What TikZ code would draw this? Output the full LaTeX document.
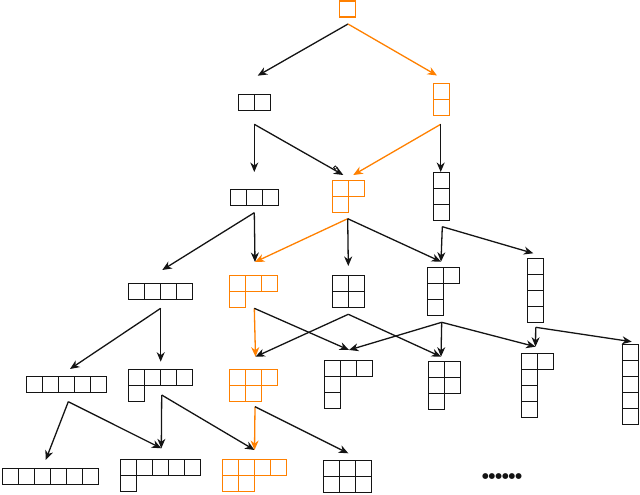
\documentclass[tikz,border=0pt]{standalone}
\usepackage{fontspec}
\usetikzlibrary{arrows.meta}
\newfontfamily\dejavu{DejaVu Sans}
\definecolor{hl}{RGB}{255,128,0}
\definecolor{ink}{RGB}{20,20,20}
\tikzset{
  cell/.style={line width=1.9pt},
  conn/.style={line width=1.3pt, ink, -{Stealth[length=9.5pt,width=8pt,inset=3pt]}},
  hlconn/.style={conn, hl},
}
\newcommand\cs{16}
% #1 name, #2 x, #3 y, #4 row lengths, #5 colour
\newcommand\young[5]{%
  \coordinate (#1) at (#2,#3);
  \begin{scope}[shift={(#2,#3)}]
    \draw[cell,#5] (0,0)
      \foreach \r [count=\i from 0] in {#4} {
        \foreach \c in {1,...,\r} {
          ({(\c-1)*\cs},{\i*\cs}) rectangle ++(\cs,\cs)
        }
      };
  \end{scope}}
\begin{document}
\begin{tikzpicture}[x=1pt,y=-1pt]
\useasboundingbox (0,0) rectangle (640,495);
% level 0
\young{p1}{339.5}{1}{1}{hl}
% level 1
\young{p2}{238.5}{94.5}{2}{ink}
\young{p11}{433.5}{83.5}{1,1}{hl}
% level 2
\young{p3}{230.5}{189.5}{3}{ink}
\young{p21}{332.5}{180.5}{2,1}{hl}
\young{p111}{433.5}{172.5}{1,1,1}{ink}
% level 3
\young{p4}{128.5}{283.5}{4}{ink}
\young{p31}{229.5}{275.5}{3,1}{hl}
\young{p22}{332.5}{275.5}{2,2}{ink}
\young{p211}{427.5}{267.5}{2,1,1}{ink}
\young{p1111}{527.5}{258.5}{1,1,1,1}{ink}
% level 4
\young{p5}{26.5}{376.5}{5}{ink}
\young{p41}{128.5}{369.5}{4,1}{ink}
\young{p32}{229.5}{369.5}{3,2}{hl}
\young{p311}{324.5}{360.5}{3,1,1}{ink}
\young{p221}{428.5}{361.5}{2,2,1}{ink}
\young{p2111}{521.5}{353.5}{2,1,1,1}{ink}
\young{p11111}{622.5}{344.5}{1,1,1,1,1}{ink}
% level 5
\young{p6}{2.5}{468.5}{6}{ink}
\young{p51}{120.5}{459.5}{5,1}{ink}
\young{p42}{222.5}{459.5}{4,2}{hl}
\young{p33}{323.5}{460.5}{3,3}{ink}
\node[font=\dejavu\fontsize{7.6}{9}\selectfont, inner sep=0, text=ink] (more) at (502,476.7) {●●●●●●};
% out points
\coordinate (p1-o) at (348,24);
\coordinate (p2-o) at (254.3,124.3);
\coordinate (p11-o) at (440.7,124.3);
\coordinate (p3-o) at (254.3,212.7);
\coordinate (p21-o) at (347.7,218.7);
\coordinate (p111-o) at (442.3,226.7);
\coordinate (p4-o) at (160.7,308.3);
\coordinate (p31-o) at (254.3,308.3);
\coordinate (p22-o) at (348.3,314.3);
\coordinate (p211-o) at (441.7,322.3);
\coordinate (p1111-o) at (535.7,327.3);
\coordinate (p5-o) at (68.3,401.7);
\coordinate (p41-o) at (161.7,395);
\coordinate (p32-o) at (255,406.7);
% in points
\coordinate (p2-i) at (257.7,75.7);
\coordinate (p11-i) at (437,75.5);
\coordinate (p3-i) at (254.3,172);
\coordinate (p21-ia) at (343.3,175);
\coordinate (p21-ib) at (353.3,175);
\coordinate (p111-i) at (440.7,172);
\coordinate (p4-i) at (162.3,270);
\coordinate (p31-i) at (255,262);
\coordinate (p22-i) at (348.3,266);
\coordinate (p211-i) at (441,261.7);
\coordinate (p1111-i) at (533.3,253.3);
\coordinate (p5-i) at (70,369);
\coordinate (p41-i) at (160.7,361.7);
\coordinate (p32-i) at (255.5,356.7);
\coordinate (p311-i) at (349,350);
\coordinate (p221-i) at (441,356.7);
\coordinate (p2111-i) at (535.5,346.7);
\coordinate (p11111-i) at (631.7,341.7);
\coordinate (p6-i) at (45.7,460);
\coordinate (p51-i) at (161.3,448.3);
\coordinate (p42-i) at (254.5,450);
\coordinate (p33-i) at (348.3,453.3);
% connectors
\draw[conn] (p1-o) -- (p2-i);
\draw[hlconn] (p1-o) -- (p11-i);
\draw[conn] (p2-o) -- (p3-i);
\draw[conn] (p2-o) -- (p21-ia);
\draw[ink, line width=0.8pt] (335.3,167.6) circle (1.7);
\draw[hlconn] (p11-o) -- (p21-ib);
\draw[conn] (p11-o) -- (p111-i);
\draw[conn] (p3-o) -- (p4-i);
\draw[conn] (p3-o) -- (p31-i);
\draw[hlconn] (p21-o) -- (p31-i);
\draw[conn] (p21-o) -- (p22-i);
\draw[conn] (p21-o) -- (p211-i);
\draw[conn] (p111-o) -- (p211-i);
\draw[conn] (p111-o) -- (p1111-i);
\draw[conn] (p4-o) -- (p5-i);
\draw[conn] (p4-o) -- (p41-i);
\draw[hlconn] (p31-o) -- (p32-i);
\draw[conn] (p31-o) -- (p311-i);
\draw[conn] (p22-o) -- (p32-i);
\draw[conn] (p22-o) -- (p221-i);
\draw[conn] (p211-o) -- (p311-i);
\draw[conn] (p211-o) -- (p221-i);
\draw[conn] (p211-o) -- (p2111-i);
\draw[conn] (p1111-o) -- (p2111-i);
\draw[conn] (p1111-o) -- (p11111-i);
\draw[conn] (p5-o) -- (p6-i);
\draw[conn] (p5-o) -- (p51-i);
\draw[conn] (p41-o) -- (p51-i);
\draw[conn] (p41-o) -- (p42-i);
\draw[hlconn] (p32-o) -- (p42-i);
\draw[conn] (p32-o) -- (p33-i);
\end{tikzpicture}
\end{document}
